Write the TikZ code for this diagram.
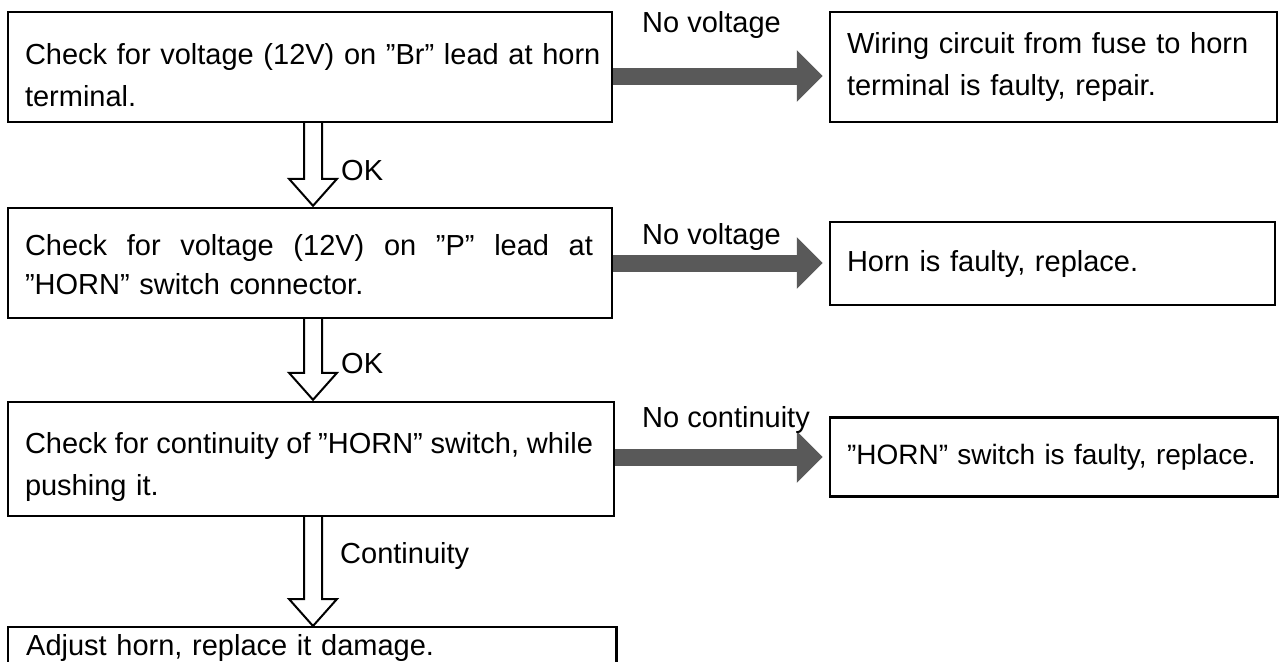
\documentclass[tikz,border=0pt]{standalone}
\usepackage{fontspec}
\setmainfont{Liberation Sans}
\usetikzlibrary{arrows.meta,calc}
\newcommand\topst[1]{\rule{0pt}{#1}}
\newcommand\botst{\rule[-8pt]{0pt}{8pt}}
\newcommand\justline[2]{\hbox to #1{\spaceskip=0.28em plus 1fil minus 0.12em\relax #2}}
\begin{document}
\begin{tikzpicture}[x=1pt,y=-1pt,
  box/.style={draw=black, line width=2.4pt, rectangle, inner xsep=17pt, inner ysep=0pt,
    align=left, font=\fontsize{29}{42}\selectfont, anchor=center},
  garrow/.style={line width=17pt, draw=black!65, -{Triangle[width=50pt,length=26pt]}, shorten >=6pt},
  hollow/.style={draw=black, line width=2pt, fill=white, line join=miter},
  lbl/.style={font=\fontsize{29}{34}\selectfont, inner sep=0pt}]
\fill[white] (0,0) rectangle (1284,661);
\useasboundingbox (0,0) rectangle (1284,661);

% left column
\node[box, minimum width=604pt, minimum height=110pt, text width=570pt] (l1) at (310,67)
  {\mbox{\topst{44pt}Check for voltage (12V) on ''Br'' lead at horn}\\\mbox{terminal.\botst}};
\node[box, minimum width=604pt, minimum height=110pt, text width=570pt,
  font=\fontsize{29}{39}\selectfont] (l2) at (310,263)
  {\justline{568pt}{\topst{32pt}Check for voltage (12V) on ''P'' lead at}\\\mbox{''HORN'' switch connector.\botst}};
\node[box, minimum width=606pt, minimum height=114pt, text width=572pt] (l3) at (311,459)
  {\justline{568pt}{\topst{38pt}Check for continuity of ''HORN'' switch, while}\\\mbox{pushing it.\botst}};
\node[box, draw=none, anchor=north west, minimum width=606pt, minimum height=40pt, text width=572pt] (l4) at (8,627)
  {\mbox{Adjust horn, replace it damage.}};
\draw[line width=2.4pt] ([yshift=-60pt]l4.north west) -- (l4.north west) -- (l4.north east) -- ([yshift=-60pt]l4.north east);

% right column
\node[box, minimum width=447pt, minimum height=110pt, text width=413pt] (r1) at (1053.5,67)
  {\mbox{Wiring circuit from fuse to horn}\\\mbox{terminal is faulty, repair.}};
\node[box, minimum width=445pt, minimum height=83pt, text width=411pt] (r2) at (1052.5,263.5)
  {\mbox{Horn is faulty, replace.}};
\node[box, minimum width=448pt, minimum height=79pt, text width=414pt,
  font=\fontsize{28}{40}\selectfont] (r3) at (1054,457)
  {\mbox{''HORN'' switch is faulty, replace.}};

% gray arrows
\draw[garrow] ([yshift=-9pt]l1.east) -- ([yshift=-9pt]l1.east -| r1.west);
\draw[garrow] (l2.east) -- (l2.east -| r2.west);
\draw[garrow] ([yshift=2pt]l3.east) -- ([yshift=2pt]l3.east -| r3.west);
\node[lbl, anchor=base west] (n1) at (642,33) {No voltage};
\node[lbl, anchor=base west] (n2) at (642,244) {No voltage};
\node[lbl, anchor=base west] (n3) at (642,427) {No continuity};

% hollow arrows
\draw[hollow] let \p1=(l1.south), \p2=(l2.north) in
  (304pt,\y1) -- (304pt,\y2+28pt) -- (289pt,\y2+28pt) -- (313pt,\y2+1pt) -- (337pt,\y2+28pt) -- (322pt,\y2+28pt) -- (322pt,\y1);
\draw[hollow] let \p1=(l2.south), \p2=(l3.north) in
  (304pt,\y1) -- (304pt,\y2+28pt) -- (289pt,\y2+28pt) -- (313pt,\y2+1pt) -- (337pt,\y2+28pt) -- (322pt,\y2+28pt) -- (322pt,\y1);
\draw[hollow] let \p1=(l3.south), \p2=(l4.north) in
  (304pt,\y1) -- (304pt,\y2+28pt) -- (289pt,\y2+28pt) -- (313pt,\y2+1pt) -- (337pt,\y2+28pt) -- (322pt,\y2+28pt) -- (322pt,\y1);
\node[lbl, anchor=base west] (ok1) at (341,180) {OK};
\node[lbl, anchor=base west] (ok2) at (341,373) {OK};
\node[lbl, anchor=base west] (co) at (340,563) {Continuity};
\end{tikzpicture}
\end{document}
